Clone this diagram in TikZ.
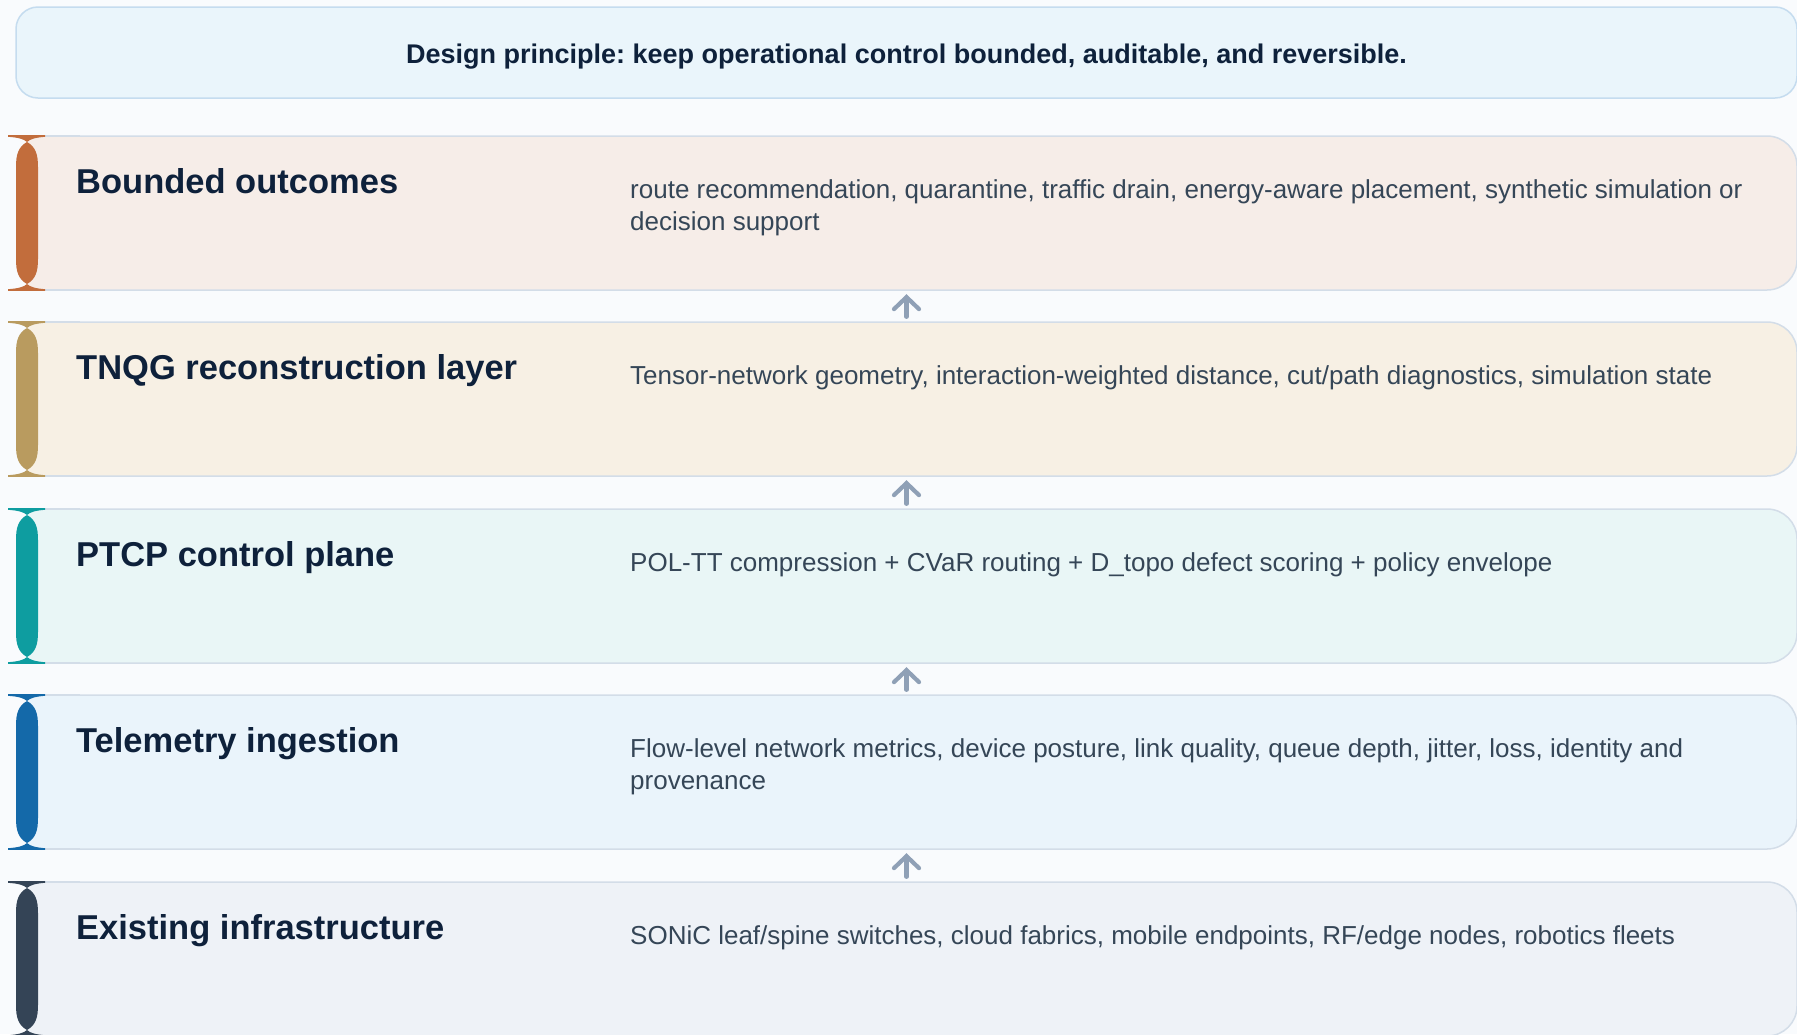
\documentclass[tikz,border=0pt]{standalone}
\usepackage{fontspec}
\setmainfont{Liberation Sans}
\usetikzlibrary{arrows.meta}
\definecolor{pagebg}{HTML}{F9FBFD}
\definecolor{bannerfill}{HTML}{EAF5FB}
\definecolor{bannerline}{HTML}{C5DCEF}
\definecolor{rowline}{HTML}{D3DDE8}
\definecolor{titlecol}{HTML}{0E213B}
\definecolor{bodycol}{HTML}{354657}
\definecolor{arrowcol}{HTML}{8FA0B6}
\definecolor{fillA}{HTML}{F6EDE8}\definecolor{barA}{HTML}{C26D3C}
\definecolor{fillB}{HTML}{F7F0E4}\definecolor{barB}{HTML}{B99B5F}
\definecolor{fillC}{HTML}{E9F6F6}\definecolor{barC}{HTML}{0E9DA0}
\definecolor{fillD}{HTML}{EAF4FB}\definecolor{barD}{HTML}{1469A9}
\definecolor{fillE}{HTML}{EEF2F7}\definecolor{barE}{HTML}{344456}
\tikzset{
  rowframe/.style={rectangle, draw=none, fill=none, minimum width=1781pt, minimum height=154pt, inner sep=0pt},
  rowborder/.style={draw=rowline, line width=1.5pt},
  banner/.style={rectangle, rounded corners=22pt, fill=bannerfill, draw=bannerline, line width=1.5pt,
    minimum width=1781pt, minimum height=91pt, inner sep=0pt, text=titlecol,
    font=\fontsize{27}{32}\selectfont\bfseries},
  titletext/.style={anchor=base west, inner sep=0pt, text=titlecol, font=\fontsize{34.5}{40}\selectfont\bfseries},
  bodytext/.style={anchor=north west, inner sep=0pt, align=left, text=bodycol, font=\fontsize{26}{32}\selectfont},
  flowarrow/.style={draw=arrowcol, line width=4.2pt, line cap=round,
    -{Straight Barb[length=12pt,width=25pt,line cap=round,line join=miter]}, shorten >=4pt, shorten <=5pt},
}
% #1 name, #2 top y, #3 fill, #4 bar colour, #5 title, #6 body
\newcommand\layerrow[6]{%
  \node[rowframe] (#1) at (906.5,#2+77) {};
  \path[fill=#3, rowborder, rounded corners=30pt] (38,#2) rectangle (1797,#2+154);
  \fill[#3] (27,#2+1) rectangle (80,#2+153);
  \draw[rowborder] (38,#2) -- (80,#2);
  \draw[rowborder] (38,#2+154) -- (80,#2+154);
  \fill[#4] (8,#2-0.8) -- (45,#2-0.8) -- (45,#2+0.8)
     .. controls (36,#2+1.5) and (30,#2+3) .. (27,#2+6)
     .. controls (24,#2+3) and (18,#2+1.5) .. (8,#2+0.8) -- cycle;
  \fill[#4] (8,#2+154.8) -- (45,#2+154.8) -- (45,#2+153.2)
     .. controls (36,#2+152.5) and (30,#2+151) .. (27,#2+148)
     .. controls (24,#2+151) and (18,#2+152.5) .. (8,#2+153.2) -- cycle;
  \fill[#4] (27,#2+6) .. controls (18,#2+11) and (16,#2+19) .. (16,#2+31)
     -- (16,#2+123) .. controls (16,#2+135) and (18,#2+143) .. (27,#2+148)
     .. controls (36,#2+143) and (38,#2+135) .. (38,#2+123)
     -- (38,#2+31) .. controls (38,#2+19) and (36,#2+11) .. (27,#2+6) -- cycle;
  \node[titletext] (#1t) at (76,#2+57) {#5};
  \node[bodytext] (#1b) at (630,#2+38) {\rule{0pt}{24pt}#6};
}
\begin{document}
\frenchspacing
\begin{tikzpicture}[x=1pt,y=-1pt]
  \useasboundingbox (0,0) rectangle (1797,1034);
  \fill[pagebg] (0,0) rectangle (1797,1034);
  \node[banner] (banner) at (906.5,52.5) {};
  \node[anchor=base, inner sep=0pt, text=titlecol, font=\fontsize{27}{32}\selectfont\bfseries] (bannertext) at (906.5,63) {Design principle: keep operational control bounded, auditable, and reversible.};
  \layerrow{r1}{136}{fillA}{barA}{Bounded outcomes}{route recommendation, quarantine, traffic drain, energy-aware placement, synthetic simulation or\\decision support}
  \layerrow{r2}{322}{fillB}{barB}{TNQG reconstruction layer}{Tensor-network geometry, interaction-weighted distance, cut/path diagnostics, simulation state}
  \layerrow{r3}{509}{fillC}{barC}{PTCP control plane}{POL-TT compression + CVaR routing + D\_topo defect scoring + policy envelope}
  \layerrow{r4}{695}{fillD}{barD}{Telemetry ingestion}{Flow-level network metrics, device posture, link quality, queue depth, jitter, loss, identity and\\provenance}
  \layerrow{r5}{882}{fillE}{barE}{Existing infrastructure}{SONiC leaf/spine switches, cloud fabrics, mobile endpoints, RF/edge nodes, robotics fleets}
  \draw[flowarrow] (r2.north) -- (r1.south);
  \draw[flowarrow] (r3.north) -- (r2.south);
  \draw[flowarrow] (r4.north) -- (r3.south);
  \draw[flowarrow] (r5.north) -- (r4.south);
\end{tikzpicture}
\end{document}
